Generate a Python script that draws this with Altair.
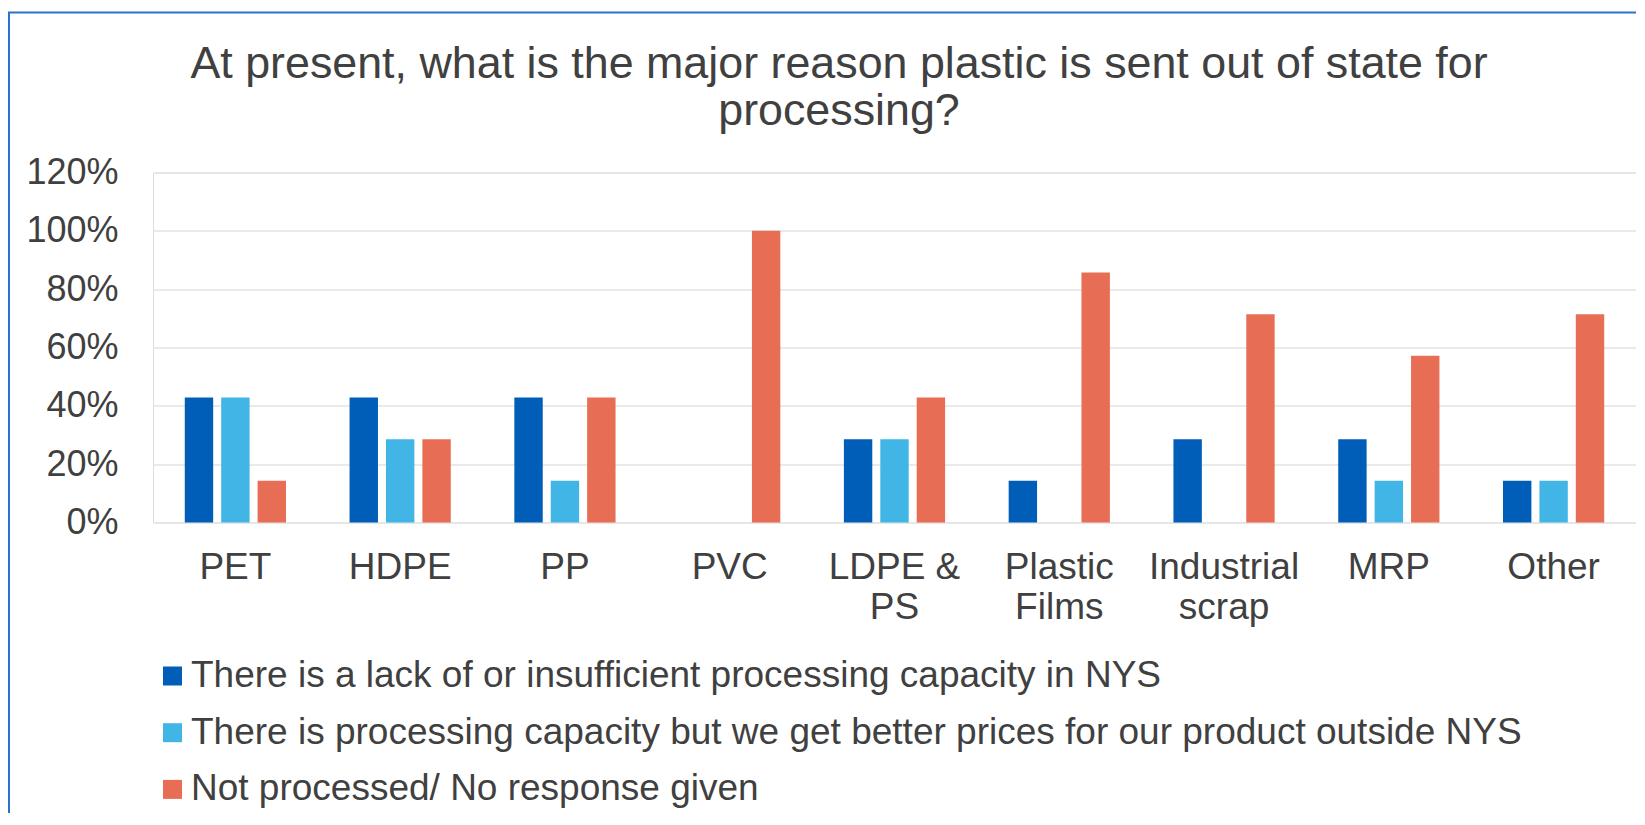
import altair as alt
import pandas as pd

categories = ["PET", "HDPE", "PP", "PVC", "LDPE &\nPS", "Plastic\nFilms",
              "Industrial\nscrap", "MRP", "Other"]
series = [
    "There is a lack of or insufficient processing capacity in NYS",
    "There is processing capacity but we get better prices for our product outside NYS",
    "Not processed/ No response given",
]
lack = [0.4286, 0.4286, 0.4286, 0.0, 0.2857, 0.1429, 0.2857, 0.2857, 0.1429]
better = [0.4286, 0.2857, 0.1429, 0.0, 0.2857, 0.0, 0.0, 0.1429, 0.1429]
notproc = [0.1429, 0.2857, 0.4286, 1.0, 0.4286, 0.8571, 0.7143, 0.5714, 0.7143]
colors = ["#005EB8", "#41B6E6", "#E76E54"]
y_ticks = [0, 0.2, 0.4, 0.6, 0.8, 1.0, 1.2]
title_lines = ["At present, what is the major reason plastic is sent out of state for",
               "processing?"]

rows = []
for s, vals in zip(series, [lack, better, notproc]):
    for c, v in zip(categories, vals):
        rows.append({"category": c, "series": s, "value": v})
df = pd.DataFrame(rows)

FONT = "Liberation Sans"
TXT = "#404040"

bars = alt.Chart(df).mark_bar().encode(
    x=alt.X("category:N", sort=categories,
            scale=alt.Scale(paddingInner=0, paddingOuter=0),
            axis=alt.Axis(title=None, labelAngle=0, labelFontSize=37,
                          labelExpr="split(datum.label, '\\n')",
                          labelLineHeight=40, labelPadding=27,
                          ticks=False, domain=False, grid=False,
                          labelColor=TXT, labelFont=FONT)),
    xOffset=alt.XOffset("series:N", sort=series,
                        scale=alt.Scale(paddingInner=0.22, paddingOuter=0.873)),
    y=alt.Y("value:Q", scale=alt.Scale(domain=[0, 1.2]),
            axis=alt.Axis(title=None, values=y_ticks, format=".0%",
                          labelFontSize=36, labelPadding=35, ticks=False,
                          domain=False, grid=True, gridColor="#E3E3E3",
                          gridWidth=1.5, labelColor=TXT, labelFont=FONT)),
    color=alt.Color("series:N", scale=alt.Scale(domain=series, range=colors),
                    legend=alt.Legend(title=None, orient="none", legendX=1,
                                      legendY=485, direction="vertical",
                                      symbolType="square", symbolSize=361,
                                      symbolStrokeWidth=0, labelFontSize=37,
                                      labelOffset=0, rowPadding=18.7, padding=0,
                                      labelLimit=3000, labelColor=TXT,
                                      labelFont=FONT)),
)

title1 = alt.Chart(pd.DataFrame({"t": [title_lines[0]]})).mark_text(
    fontSize=44.8, font=FONT, color=TXT, align="center", baseline="middle"
).encode(text="t:N", x=alt.value(686), y=alt.value(-108))
title2 = alt.Chart(pd.DataFrame({"t": [title_lines[1]]})).mark_text(
    fontSize=44.8, font=FONT, color=TXT, align="center", baseline="middle"
).encode(text="t:N", x=alt.value(686), y=alt.value(-61))

frame = alt.Chart(pd.DataFrame({"a": [0]})).mark_rect(
    filled=False, stroke="#2A72D0", strokeWidth=2
).encode(x=alt.value(-144), x2=alt.value(1700), y=alt.value(-160),
         y2=alt.value(900))

chart = alt.layer(frame, bars, title1, title2).properties(
    width=1483, height=350,
    padding={"left": 145, "top": 164.5, "right": 0, "bottom": 290},
    autosize=alt.AutoSizeParams(type="none"),
).configure_view(stroke=None).configure(font=FONT)

chart.save("out.html", embed_options={"renderer": "svg", "actions": False})
